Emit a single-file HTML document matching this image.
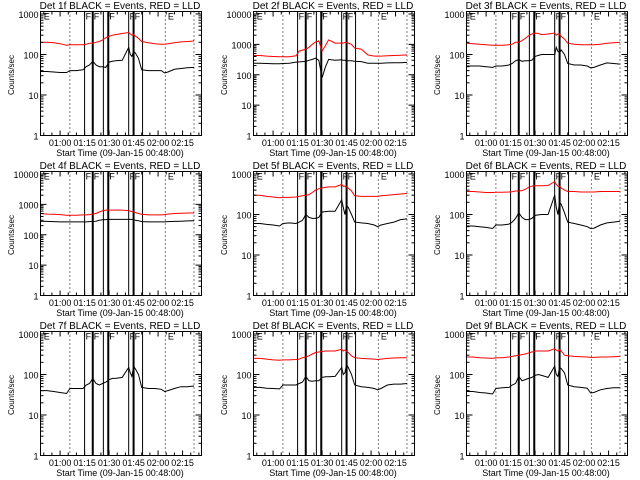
<!DOCTYPE html>
<html><head><meta charset="utf-8">
<style>
html,body{margin:0;padding:0;background:#fff;}
svg{display:block;}
text{font-family:"Liberation Sans",sans-serif;fill:#000;}
</style></head>
<body>
<svg id="chart" width="640" height="480" viewBox="0 0 640 480" xmlns="http://www.w3.org/2000/svg"></svg>
<script>
// minutes since 00:48:00
const times = [0,4,8,12,16,18,22,26,28,30,32,34,36,38,40,42,44,46,50,54,55,56,57,58,60,62,66,70,74,76,78,82,86,90,94];
const detNames = ["1f","2f","3f","4f","5f","6f","7f","8f","9f"];
const yMaxDecade = [3,4,3,4,3,3,3,3,3];
const black1 = [38,38,37,36,36,40,40,42,50,55,68,55,50,50,48,65,68,70,72,150,100,90,120,110,80,42,40,40,40,35,37,43,45,47,48];
const red1 = [200,200,195,185,170,175,175,175,180,190,190,200,210,230,260,280,300,310,330,350,320,300,310,290,250,210,195,185,180,180,185,195,205,210,215];
const black2 = [240,240,235,230,230,235,240,260,265,270,280,300,320,350,300,80,180,320,300,310,300,300,290,290,290,280,270,240,240,240,240,245,250,250,255];
const red2 = [430,430,410,400,390,390,390,420,600,650,700,800,1000,1200,1300,600,900,1400,1100,1100,1100,1150,1150,1100,1000,750,700,450,410,410,410,420,430,440,450];
const black3 = [52,52,52,50,48,52,52,55,60,70,75,68,70,70,72,90,95,100,100,100,150,120,110,130,100,60,55,55,52,47,48,55,62,60,58];
const red3 = [190,185,180,175,170,170,170,175,180,200,200,220,250,290,320,340,330,310,320,340,300,320,320,280,240,190,180,175,175,175,175,180,190,195,200];
const black4 = [280,275,270,265,265,265,265,265,265,270,275,280,300,310,315,320,320,320,320,320,320,320,310,300,290,270,265,265,265,265,270,275,280,285,290];
const red4 = [500,480,470,460,440,440,440,450,450,460,480,500,560,620,650,650,650,650,650,620,600,580,560,540,500,470,450,450,450,460,480,500,510,520,520];
const black5 = [60,60,57,55,52,60,62,60,65,72,100,85,80,80,85,115,118,120,120,230,150,100,170,150,100,65,62,60,55,50,55,60,65,75,78];
const red5 = [300,300,280,270,260,265,265,270,280,290,300,310,350,400,430,450,470,480,480,550,500,500,480,450,380,290,280,280,280,280,290,300,310,320,330];
const black6 = [52,52,50,48,45,55,55,58,65,80,110,85,75,75,80,95,98,100,100,300,150,100,200,180,110,65,60,55,50,45,46,55,62,65,68];
const red6 = [370,370,360,350,350,355,355,360,365,380,380,390,420,470,500,510,510,510,520,650,550,500,500,450,400,370,370,360,360,360,360,370,370,370,370];
const black7 = [40,40,38,36,34,45,45,45,55,60,80,60,55,60,65,75,80,80,85,150,110,90,160,140,100,48,45,45,43,38,40,45,50,50,52];
const red7 = [1170,1180,1170,1175,1180,1170,1180,1175,1170,1180,1170,1175,1180,1170,1175,1180,1170,1175,1180,1170,1175,1180,1170,1175,1180,1170,1175,1180,1170,1175,1180,1170,1175,1180,1170];
const black8 = [48,48,46,45,44,55,55,55,60,65,90,70,68,70,70,85,88,88,90,150,100,110,180,150,100,55,50,48,45,42,45,55,58,58,60];
const red8 = [250,250,240,230,225,230,230,235,240,260,270,290,320,350,360,370,380,380,380,420,380,400,380,350,290,260,250,245,240,235,240,250,255,260,260];
const black9 = [38,38,36,35,33,45,47,48,55,60,90,70,75,80,85,95,100,95,85,160,100,90,150,140,110,55,50,48,46,35,36,42,45,47,47];
const red9 = [270,270,260,255,250,260,260,270,280,290,300,310,320,340,360,380,380,380,380,430,400,380,420,380,300,290,280,275,270,265,265,270,270,275,280];
const blackSeries = [black1,black2,black3,black4,black5,black6,black7,black8,black9];
const redSeries = [red1,red2,red3,red4,red5,red6,red7,red8,red9];
const xTickLabels = ["01:00","01:15","01:30","01:45","02:00","02:15"];
const xTickMinutes = [12,27,42,57,72,87];
const flagTimes = [27,32,38.5,41.5,54,57,62.5];
const flagWidths = [1,2,1,2,1,2,1];
const flagLetters = [[27,"F"],[32,"F"],[41.5,"F"],[54,"F"],[57,"F"]];
const dottedTimes = [18,76.5,94];
const eTimes = [2,78];

const NS="http://www.w3.org/2000/svg";
const svg=document.getElementById('chart');
function mk(tag,attrs,parent){const e=document.createElementNS(NS,tag);for(const k in attrs)e.setAttribute(k,attrs[k]);(parent||svg).appendChild(e);return e;}

for(let p=0;p<9;p++){
  const ox=[0,213,426][p%3], oy=[0,160,320][Math.floor(p/3)];
  const L=ox+40.5,R=ox+201.5,T=oy+11.5,B=oy+135.5;
  const dec=yMaxDecade[p];
  const topLog=dec*(B-T)/(B-(oy+14));
  const xs=t=>L+t*1.633;
  const ys=v=>B-(Math.log10(v)/topLog)*(B-T);
  const g=mk('g',{});
  
  
  const title=mk('text',{x:ox+120,y:oy+9,'font-size':10,'text-anchor':'middle'},g);
  title.textContent='Det '+detNames[p]+' BLACK = Events, RED = LLD';
  
  
  dottedTimes.forEach(t=>{const l=mk('line',{x1:xs(t),x2:xs(t),y1:T,y2:B,stroke:'#000','stroke-width':1,'stroke-dasharray':'1,3'},g);
    
    });
  flagTimes.forEach((t,i)=>{const l=mk('line',{x1:xs(t),x2:xs(t),y1:T,y2:B,stroke:'#000','stroke-width':flagWidths[i]},g);
    
    });
  flagLetters.forEach(f=>{const tx=mk('text',{x:xs(f[0])+1,y:T+8,'font-size':9},g);tx.textContent=f[1];
    
    });
  eTimes.forEach(t=>{const tx=mk('text',{x:xs(t),y:T+8,'font-size':9},g);tx.textContent='E';
    
    });
  const clipId='clip'+p;
  const cp=mk('clipPath',{id:clipId},g);mk('rect',{x:L,y:T,width:R-L,height:B-T},cp);
  const mkLine=(vals,color,name)=>{
    let d='';vals.forEach((v,i)=>{const x=xs(times[i]),y=ys(v);d+=(i?'L':'M')+x.toFixed(1)+','+y.toFixed(1);});
    const pa=mk('path',{d:d,fill:'none',stroke:color,'stroke-width':1,'clip-path':'url(#'+clipId+')'},g);
    
    
  };
  mkLine(redSeries[p],'#ff0000','lld-series');
  mkLine(blackSeries[p],'#000000','events-series');
  const box=mk('rect',{x:L,y:T,width:R-L,height:B-T,fill:'none',stroke:'#000','stroke-width':1},g);
  
  
  for(let d=0;d<=dec;d++){
    const y=ys(Math.pow(10,d));
    mk('line',{x1:L,x2:L+6,y1:y,y2:y,stroke:'#000'},g);
    mk('line',{x1:R-6,x2:R,y1:y,y2:y,stroke:'#000'},g);
    const lb=mk('text',{x:L-2,y:y+4,'font-size':9,'text-anchor':'end'},g);lb.textContent=String(Math.pow(10,d));
    
    
    for(let m=2;m<10;m++){const v=m*Math.pow(10,d);const yy=ys(v);if(yy<T)break;
      mk('line',{x1:L,x2:L+3,y1:yy,y2:yy,stroke:'#000'},g);mk('line',{x1:R-3,x2:R,y1:yy,y2:yy,stroke:'#000'},g);}
  }
  const yl=mk('text',{x:ox+14,y:oy+75,'font-size':8,'text-anchor':'middle',transform:'rotate(-90 '+(ox+14)+' '+(oy+75)+')'},g);
  yl.textContent='Counts/sec';
  
  
  for(let m=2;m<=97;m+=5){const x=xs(m);if(x>R)break;const major=(m-12)%15===0;
    mk('line',{x1:x,x2:x,y1:B,y2:B-(major?5:3),stroke:'#000'},g);mk('line',{x1:x,x2:x,y1:T,y2:T+(major?5:3),stroke:'#000'},g);}
  xTickLabels.forEach((s,i)=>{const tx=mk('text',{x:xs(xTickMinutes[i]),y:oy+146,'font-size':9,'text-anchor':'middle'},g);tx.textContent=s;
    
    });
  const xt=mk('text',{x:ox+120,y:oy+156,'font-size':9,'text-anchor':'middle'},g);
  xt.textContent='Start Time (09-Jan-15 00:48:00)';
  
  
}
</script>
</body></html>
